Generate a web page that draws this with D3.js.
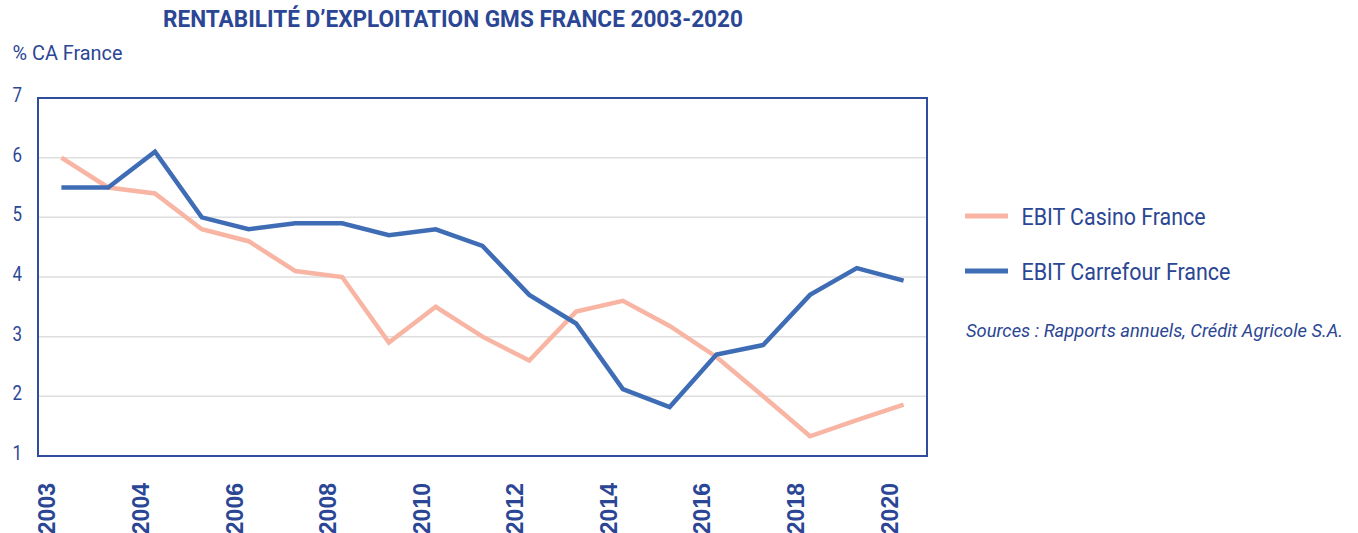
<!DOCTYPE html>
<html>
<head>
<meta charset="utf-8">
<script src="https://cdn.jsdelivr.net/npm/d3@7"></script>
<style>
  body { margin: 0; background: #fff; }
  text { font-family: Roboto, "Liberation Sans", sans-serif; fill: #2b4694; }
</style>
</head>
<body>
<svg id="chart" width="1358" height="533"></svg>
<script>
// data
var periods = d3.range(19) // one point per year, labels on every other one
var tickLabels = ['2003', '2004', '2006', '2008', '2010', '2012', '2014', '2016', '2018', '2020']
var casino = [6.0, 5.5, 5.4, 4.8, 4.6, 4.1, 4.0, 2.9, 3.5, 3.0, 2.6, 3.42, 3.6, 3.18, 2.66, 2.0, 1.33, 1.6, 1.86]
var carrefour = [5.5, 5.5, 6.1, 5.0, 4.8, 4.9, 4.9, 4.7, 4.8, 4.52, 3.7, 3.22, 2.12, 1.82, 2.7, 2.86, 3.7, 4.15, 3.94]
var yTicks = [1, 2, 3, 4, 5, 6, 7]
var seriesNames = ['EBIT Casino France', 'EBIT Carrefour France']
var seriesColors = ['#f8b5a3', '#3f6db5']

var svg = d3.select('#chart')
var plotLeft = 38, plotRight = 927, plotTop = 98, plotBottom = 456

var x = d3.scalePoint().domain(periods).range([plotLeft, plotRight]).padding(0.5)
var y = d3.scaleLinear().domain([1, 7]).range([plotBottom, plotTop])

// narrow look: squeeze texts to the widths seen in the picture
function fit (sel, w) {
  return sel.attr('textLength', w).attr('lengthAdjust', 'spacingAndGlyphs')
}

// title
svg.append('text')
  .attr('x', 163).attr('y', 27)
  .style('font-size', '24px').style('font-weight', 'bold')
  .text('RENTABILITÉ D\u2019EXPLOITATION GMS FRANCE 2003-2020')
  .call(fit, 580)

svg.append('text')
  .attr('x', 12.5).attr('y', 60)
  .style('font-size', '21px')
  .text('% CA France')
  .call(fit, 110)

// grid
svg.append('g').selectAll('line')
  .data(yTicks.slice(1, -1))
  .enter().append('line')
  .attr('x1', plotLeft).attr('x2', plotRight)
  .attr('y1', function (d) { return y(d) }).attr('y2', function (d) { return y(d) })
  .attr('stroke', '#dedede').attr('stroke-width', 1.5)

// y labels
svg.append('g').selectAll('text')
  .data(yTicks)
  .enter().append('text')
  .attr('x', 22).attr('y', function (d) { return y(d) + 4 })
  .attr('text-anchor', 'end')
  .style('font-size', '21px')
  .text(function (d) { return d })
  .call(fit, 9.5)

// lines
var line = d3.line()
  .x(function (d, i) { return x(i) })
  .y(function (d) { return y(d) })

;[casino, carrefour].forEach(function (s, i) {
  svg.append('path')
    .datum(s)
    .attr('d', line)
    .attr('fill', 'none')
    .attr('stroke', seriesColors[i])
    .attr('stroke-width', 4.5)
})

// frame
svg.append('rect')
  .attr('x', plotLeft).attr('y', plotTop)
  .attr('width', plotRight - plotLeft).attr('height', plotBottom - plotTop)
  .attr('fill', 'none').attr('stroke', '#2f4c9e').attr('stroke-width', 2)

// x labels, rotated
svg.append('g').selectAll('text')
  .data(tickLabels)
  .enter().append('text')
  .attr('transform', function (d, i) { return 'translate(' + (x(i * 2) - 6) + ',483) rotate(-90)' })
  .attr('text-anchor', 'end')
  .style('font-family', '"Liberation Sans", Arial, sans-serif')
  .style('font-size', '23px').style('font-weight', 'bold')
  .text(function (d) { return d })

// legend
var legend = svg.append('g')
var legendWidths = [184, 209]
seriesNames.forEach(function (name, i) {
  var ly = 216 + i * 55
  legend.append('line')
    .attr('x1', 965).attr('x2', 1008)
    .attr('y1', ly).attr('y2', ly)
    .attr('stroke', seriesColors[i]).attr('stroke-width', 5)
  legend.append('text')
    .attr('x', 1021.5).attr('y', ly + 9)
    .style('font-size', '23px')
    .text(name)
    .call(fit, legendWidths[i])
})

svg.append('text')
  .attr('x', 966).attr('y', 337)
  .style('font-size', '18.5px').style('font-style', 'italic')
  .text('Sources : Rapports annuels, Crédit Agricole S.A.')
  .call(fit, 377)
</script>
</body>
</html>
